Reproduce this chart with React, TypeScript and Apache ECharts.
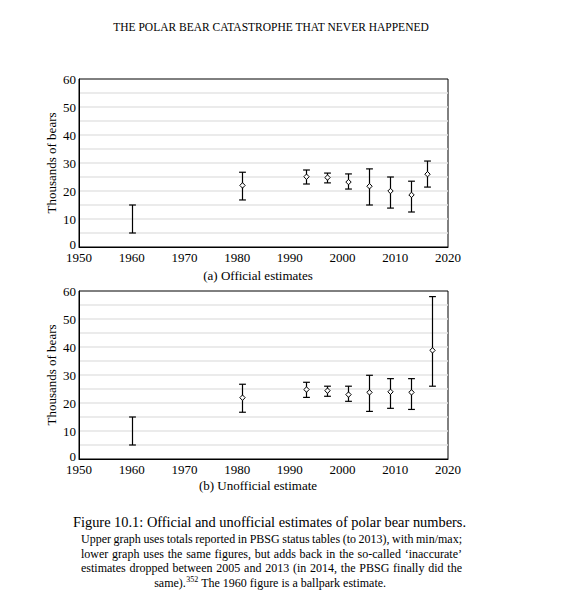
import React, { useEffect, useRef } from "react";
import * as echarts from "echarts";

// (a) Official estimates — thousands of bears, min / max / point estimate
const YEARS_A = [1960, 1981, 1993, 1997, 2001, 2005, 2009, 2013, 2016];
const LOW_A = [5, 16.8, 22.5, 22.9, 20.7, 15, 13.9, 12.5, 21.4];
const HIGH_A = [15, 26.7, 27.5, 26.4, 26.1, 27.9, 25, 23.5, 30.7];
const MID_A = [null, 22, 25.1, 24.8, 23.2, 21.7, 20, 18.6, 26];

// (b) Unofficial estimate
const YEARS_B = [1960, 1981, 1993, 1997, 2001, 2005, 2009, 2013, 2017];
const LOW_B = [5, 16.7, 22, 22.4, 20.6, 17, 18.1, 17.7, 26];
const HIGH_B = [15, 26.7, 27.4, 26, 26, 29.9, 28.7, 28.7, 58];
const MID_B = [null, 21.9, 24.8, 24.4, 23, 23.8, 24, 23.8, 38.8];

const Y_LABELS = [0, 10, 20, 30, 40, 50, 60];

const HEADER = "THE POLAR BEAR CATASTROPHE THAT NEVER HAPPENED";
const SUB_A = "(a) Official estimates";
const SUB_B = "(b) Unofficial estimate";
const CAPTION = "Figure 10.1: Official and unofficial estimates of polar bear numbers.";
const NOTE_LINES = [
  "Upper graph uses totals reported in PBSG status tables (to 2013), with min/max;",
  "lower graph uses the same figures, but adds back in the so-called \u2018inaccurate\u2019",
  "estimates dropped between 2005 and 2013 (in 2014, the PBSG finally did the",
];
const NOTE_LAST = ["same).", "352", " The 1960 figure is a ballpark estimate."];

const SERIF = '"Liberation Serif", "DejaVu Serif", serif';
const CAP = 3.4;
const DIA = 2.7;

const errorBars =
  (mids: (number | null)[]) => (params: any, api: any) => {
    const i = params.dataIndex;
    const top = api.coord([api.value(0), api.value(2)]);
    const bot = api.coord([api.value(0), api.value(1)]);
    const x = Math.round(top[0]) + 0.5;
    const style = { stroke: "#000", lineWidth: 1.2 };
    const children: any[] = [
      { type: "line", shape: { x1: x, y1: top[1], x2: x, y2: bot[1] }, style },
      { type: "line", shape: { x1: x - CAP, y1: top[1], x2: x + CAP, y2: top[1] }, style },
      { type: "line", shape: { x1: x - CAP, y1: bot[1], x2: x + CAP, y2: bot[1] }, style },
    ];
    const mid = mids[i];
    if (mid != null) {
      const m = api.coord([api.value(0), mid]);
      children.push({
        type: "polygon",
        shape: {
          points: [
            [x, m[1] - DIA],
            [x + DIA, m[1]],
            [x, m[1] + DIA],
            [x - DIA, m[1]],
          ],
        },
        style: { fill: "#fff", stroke: "#000", lineWidth: 1 },
      });
    }
    return { type: "group", children };
  };

const text = (t: string, x: number, y: number, size: number, align = "center") => ({
  type: "text",
  x,
  y,
  style: {
    text: t,
    fontFamily: SERIF,
    fontSize: size,
    fill: "#000",
    align,
    verticalAlign: "middle",
  },
});

const App: React.FC = () => {
  const chartRef = useRef<HTMLDivElement>(null);

  useEffect(() => {
    if (!chartRef.current) return;
    document.body.style.margin = "0";
    document.body.style.overflow = "hidden";

    const chart = echarts.init(chartRef.current, undefined, { renderer: "svg" });

    // measure words so the note lines can be justified like the book
    const ctx = document.createElement("canvas").getContext("2d")!;
    const measure = (s: string, size: number) => {
      ctx.font = `${size}px ${SERIF}`;
      return ctx.measureText(s).width;
    };

    const NOTE_SIZE = 12;
    const NOTE_LEFT = 81;
    const NOTE_RIGHT = 462;
    const noteY = [539, 553.5, 568];
    const graphics: any[] = [
      text(HEADER, 271, 27, 11.5),
      text(SUB_A, 258, 275, 13),
      text(SUB_B, 258, 485, 13),
      text(CAPTION, 269.5, 522, 14.4),
    ];

    NOTE_LINES.forEach((line, li) => {
      const words = line.split(" ");
      const widths = words.map((w) => measure(w, NOTE_SIZE));
      const total = widths.reduce((a, b) => a + b, 0);
      const gap = (NOTE_RIGHT - NOTE_LEFT - total) / (words.length - 1);
      let x = NOTE_LEFT;
      words.forEach((w, wi) => {
        graphics.push(text(w, x, noteY[li], NOTE_SIZE, "left"));
        x += widths[wi] + gap;
      });
    });

    const w0 = measure(NOTE_LAST[0], NOTE_SIZE);
    const w1 = measure(NOTE_LAST[1], 8);
    const w2 = measure(NOTE_LAST[2], NOTE_SIZE);
    let lx = 270 - (w0 + w1 + w2) / 2;
    graphics.push(text(NOTE_LAST[0], lx, 583, NOTE_SIZE, "left"));
    lx += w0 + 0.5;
    graphics.push(text(NOTE_LAST[1], lx, 579, 8, "left"));
    lx += w1;
    graphics.push(text(NOTE_LAST[2], lx, 583, NOTE_SIZE, "left"));

    const gridBase = {
      left: 79,
      width: 369,
      height: 168,
      show: true,
      borderColor: "#000",
      borderWidth: 1,
      backgroundColor: "transparent",
    };

    const xAxis = (gridIndex: number) => ({
      type: "value" as const,
      gridIndex,
      min: 1950,
      max: 2020,
      interval: 10,
      axisLine: { show: true, lineStyle: { color: "#000", width: 1 } },
      axisTick: { show: false },
      splitLine: { show: false },
      axisLabel: {
        color: "#000",
        fontFamily: SERIF,
        fontSize: 13,
        lineHeight: 10,
        margin: 5.5,
        formatter: (v: number) => String(v),
      },
    });

    const yAxis = (gridIndex: number) => ({
      type: "value" as const,
      gridIndex,
      min: 0,
      max: 60,
      interval: 5,
      name: "Thousands of bears",
      nameLocation: "middle" as const,
      nameGap: 21.5,
      nameMoveOverlap: false,
      nameTextStyle: { color: "#000", fontFamily: SERIF, fontSize: 13 },
      axisLine: { show: true, lineStyle: { color: "#000", width: 1 } },
      axisTick: { show: false },
      splitLine: {
        show: true,
        showMinLine: false,
        showMaxLine: false,
        lineStyle: { color: "#e4e4e4", width: 1.5 },
      },
      axisLabel: {
        color: "#000",
        fontFamily: SERIF,
        fontSize: 13,
        lineHeight: 9,
        margin: 3,
        formatter: (v: number) =>
          v === 0 ? "{z|0}" : Y_LABELS.includes(v) ? String(v) : "",
        rich: {
          // the zero sits a touch above the axis, as in the book
          z: {
            color: "#000",
            fontFamily: SERIF,
            fontSize: 13,
            lineHeight: 9,
            padding: [0, 0, 5, 0],
          },
        },
      },
    });

    const option: echarts.EChartsOption = {
      animation: false,
      backgroundColor: "#fff",
      textStyle: { fontFamily: SERIF },
      grid: [
        { ...gridBase, top: 79 },
        { ...gridBase, top: 291 },
      ],
      xAxis: [xAxis(0), xAxis(1)],
      yAxis: [yAxis(0), yAxis(1)] as any,
      graphic: graphics,
      series: [
        {
          type: "custom",
          xAxisIndex: 0,
          yAxisIndex: 0,
          renderItem: errorBars(MID_A) as any,
          data: YEARS_A.map((y, i) => [y, LOW_A[i], HIGH_A[i]]),
          encode: { x: 0, y: [1, 2] },
        },
        {
          type: "custom",
          xAxisIndex: 1,
          yAxisIndex: 1,
          renderItem: errorBars(MID_B) as any,
          data: YEARS_B.map((y, i) => [y, LOW_B[i], HIGH_B[i]]),
          encode: { x: 0, y: [1, 2] },
        },
      ],
    };

    chart.setOption(option);

    return () => {
      chart.dispose();
    };
  }, []);

  return (
    <div
      ref={chartRef}
      style={{ width: 580, height: 607 }}
      aria-label="Error bar charts of official and unofficial polar bear estimates"
    />
  );
};

export default App;
